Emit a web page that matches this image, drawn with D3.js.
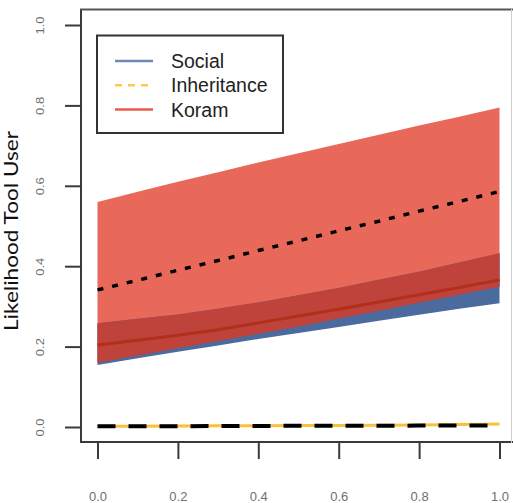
<!DOCTYPE html>
<html>
<head>
<meta charset="utf-8">
<script src="https://cdn.jsdelivr.net/npm/d3@7"></script>
<style>
  html, body { margin: 0; padding: 0; background: #fff; }
  svg { display: block; }
</style>
</head>
<body>
<svg id="chart" width="513" height="503"></svg>
<script>
// Predictor values along the x axis
const xs = [0.0, 0.1, 0.2, 0.3, 0.4, 0.5, 0.6, 0.7, 0.8, 0.9, 1.0];

// Koram model: mean and interval bounds
const koramMean  = [0.204, 0.216, 0.228, 0.242, 0.259, 0.276, 0.293, 0.311, 0.329, 0.347, 0.366];
const koramLower = [0.160, 0.178, 0.196, 0.214, 0.232, 0.250, 0.270, 0.289, 0.309, 0.329, 0.349];
const koramUpper = [0.560, 0.585, 0.610, 0.634, 0.658, 0.681, 0.704, 0.727, 0.750, 0.772, 0.795];

// Social model: interval bounds
const socialLower = [0.154, 0.171, 0.187, 0.203, 0.219, 0.234, 0.249, 0.264, 0.279, 0.294, 0.308];
const socialUpper = [0.258, 0.269, 0.280, 0.294, 0.310, 0.328, 0.346, 0.366, 0.386, 0.409, 0.432];

// Inheritance model curve
const inheritance = [0.002, 0.002, 0.0025, 0.003, 0.003, 0.0035, 0.004, 0.0045, 0.005, 0.006, 0.0075];

// Reference curves drawn in black
const upperRef = [0.341, 0.365, 0.390, 0.414, 0.439, 0.463, 0.488, 0.512, 0.537, 0.561, 0.586];
const lowerRef = [0.002, 0.002, 0.002, 0.0025, 0.0025, 0.003, 0.003, 0.003, 0.0035, 0.0035, 0.004];

const xTicks = [0, 0.2, 0.4, 0.6, 0.8, 1.0];
const yTicks = [0, 0.2, 0.4, 0.6, 0.8, 1.0];

const legendItems = [
  { label: "Social",      color: "#6f88b8", dash: null },
  { label: "Inheritance", color: "#ffc94d", dash: "7,6" },
  { label: "Koram",       color: "#ea5a4b", dash: null }
];

const svg = d3.select("#chart");

const x = d3.scaleLinear().domain([0, 1]).range([97.5, 499.5]);
const y = d3.scaleLinear().domain([0, 1]).range([427, 25]);

const rows = xs.map((v, i) => ({
  x: v,
  km: koramMean[i], kl: koramLower[i], ku: koramUpper[i],
  sl: socialLower[i], su: socialUpper[i],
  inh: inheritance[i], ur: upperRef[i], lr: lowerRef[i]
}));

// Frame
const frame = svg.append("g");
frame.append("line").attr("x1", 81).attr("x2", 81).attr("y1", 9).attr("y2", 443)
  .attr("stroke", "#3a3a3a").attr("stroke-width", 2);
frame.append("line").attr("x1", 80).attr("x2", 513).attr("y1", 9.5).attr("y2", 9.5)
  .attr("stroke", "#555").attr("stroke-width", 2);
frame.append("line").attr("x1", 80).attr("x2", 513).attr("y1", 442).attr("y2", 442)
  .attr("stroke", "#3a3a3a").attr("stroke-width", 2);
frame.append("line").attr("x1", 511.5).attr("x2", 511.5).attr("y1", 9).attr("y2", 443)
  .attr("stroke", "#cfcfcf").attr("stroke-width", 1);

// Interval bands
const band = (lo, hi) => d3.area().x(d => x(d.x)).y0(d => y(lo(d))).y1(d => y(hi(d)));

svg.append("path").datum(rows)
  .attr("d", band(d => d.kl, d => d.ku))
  .attr("fill", "#e8685a");
svg.append("path").datum(rows)
  .attr("d", band(d => d.sl, d => d.su))
  .attr("fill", "#4b6a9d");
// Overlap of the two intervals
svg.append("path").datum(rows)
  .attr("d", band(d => Math.max(d.kl, d.sl), d => Math.min(d.ku, d.su)))
  .attr("fill", "#bf433b");

const line = key => d3.line().x(d => x(d.x)).y(d => y(d[key]));

// Koram mean
svg.append("path").datum(rows).attr("d", line("km"))
  .attr("fill", "none").attr("stroke", "#b22f1c").attr("stroke-width", 3);

// Upper reference (dotted)
svg.append("path").datum(rows).attr("d", line("ur"))
  .attr("fill", "none").attr("stroke", "#000").attr("stroke-width", 3.5)
  .attr("stroke-dasharray", "6,9");

// Inheritance curve
svg.append("path").datum(rows).attr("d", line("inh"))
  .attr("fill", "none").attr("stroke", "#fbbf3e").attr("stroke-width", 3);

// Lower reference (dashed)
svg.append("path").datum(rows).attr("d", line("lr"))
  .attr("fill", "none").attr("stroke", "#000").attr("stroke-width", 4)
  .attr("stroke-dasharray", "18,13");

// Y axis
const yAxis = svg.append("g").attr("transform", "translate(81,0)")
  .call(d3.axisLeft(y).tickValues(yTicks).tickSize(16).tickFormat(d3.format(".1f")));
yAxis.select(".domain").remove();
yAxis.selectAll(".tick line").attr("stroke", "#3a3a3a").attr("stroke-width", 2);
yAxis.selectAll(".tick text")
  .attr("x", null)
  .attr("text-anchor", "middle")
  .attr("transform", "translate(-41,0) rotate(-90) scale(1,0.78)")
  .attr("dy", "0.35em")
  .attr("fill", "#707070")
  .style("font-family", "Liberation Sans, Arial, sans-serif")
  .style("font-size", "13px");

// X axis
const xAxis = svg.append("g").attr("transform", "translate(0,443)")
  .call(d3.axisBottom(x).tickValues(xTicks).tickSize(16).tickFormat(d3.format(".1f")));
xAxis.select(".domain").remove();
xAxis.selectAll(".tick line").attr("stroke", "#3a3a3a").attr("stroke-width", 2);
xAxis.selectAll(".tick text")
  .attr("y", 53).attr("dy", "0.35em")
  .attr("fill", "#707070")
  .style("font-family", "Liberation Sans, Arial, sans-serif")
  .style("font-size", "13px");

// Y axis title
svg.append("text")
  .attr("transform", "translate(18,231) rotate(-90)")
  .attr("text-anchor", "middle")
  .attr("fill", "#111")
  .attr("textLength", 200)
  .attr("lengthAdjust", "spacingAndGlyphs")
  .style("font-family", "Lato, 'Open Sans', sans-serif")
  .style("font-size", "19px")
  .text("Likelihood Tool User");

// Legend
const legend = svg.append("g");
legend.append("rect").attr("x", 97).attr("y", 35.5).attr("width", 186).attr("height", 97.5)
  .attr("fill", "#fff").attr("stroke", "#333").attr("stroke-width", 2);
legendItems.forEach((item, i) => {
  const yy = 61 + i * 24.3;
  legend.append("line").attr("x1", 115).attr("x2", 153).attr("y1", yy).attr("y2", yy)
    .attr("stroke", item.color).attr("stroke-width", 2.5)
    .attr("stroke-dasharray", item.dash);
  legend.append("text").attr("x", 171).attr("y", yy).attr("dy", "0.36em")
    .attr("fill", "#222")
    .style("font-family", "Liberation Sans, Arial, sans-serif")
    .style("font-size", "19.5px")
    .text(item.label);
});
</script>
</body>
</html>
